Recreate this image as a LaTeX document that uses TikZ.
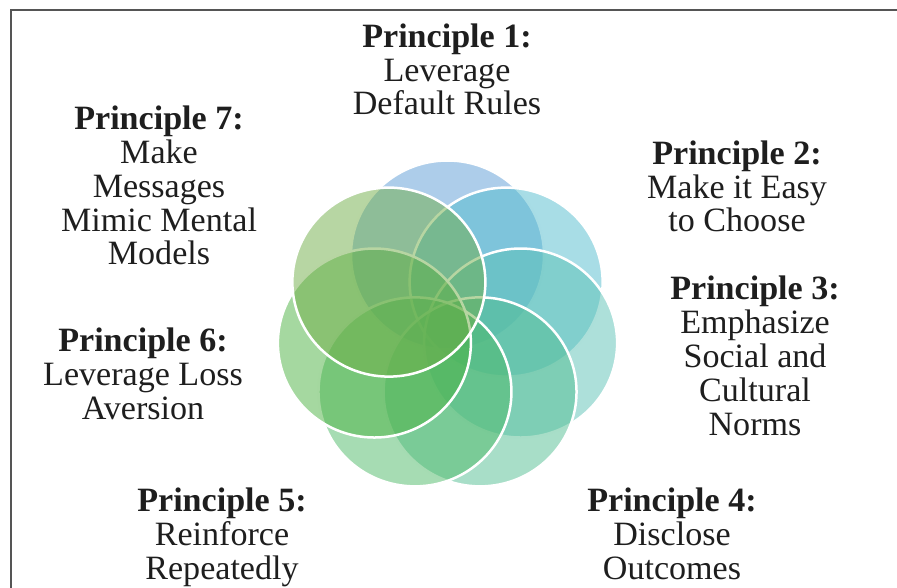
\documentclass[tikz,border=0pt]{standalone}
\usepackage{fontspec}
\setmainfont{Liberation Serif}
\definecolor{cA}{RGB}{91,155,213}
\definecolor{cB}{RGB}{81,187,205}
\definecolor{cC}{RGB}{91,193,181}
\definecolor{cD}{RGB}{81,189,145}
\definecolor{cE}{RGB}{77,185,103}
\definecolor{cF}{RGB}{75,177,65}
\definecolor{cG}{RGB}{112,173,71}
\definecolor{framegray}{RGB}{85,85,85}
\definecolor{ink}{RGB}{30,30,30}
\tikzset{
  principle/.style={font=\fontsize{34.2}{34.1}\selectfont, align=center, anchor=base, inner sep=0pt, text=ink},
  petal/.style={fill opacity=0.5, draw opacity=1, draw=white, line width=2.5bp},
}
\begin{document}
\begin{tikzpicture}[x=1bp,y=-1bp]
\useasboundingbox (0,0) rectangle (897,588);
\draw[framegray, line width=1.3bp] (11,590) -- (11,10) -- (899,10);
\foreach \a/\c in {90/cA, 38.571/cB, -12.857/cC, -64.286/cD, -115.714/cE, -167.143/cF, 141.429/cG}{
  \path[petal, fill=\c] ({447.5+75*cos(\a)},{327-72*sin(\a)}) ellipse[x radius=96.5, y radius=94.5];
}
% anchor=base is the baseline of the last line
\node[principle] (p1) at (447,115) {\textbf{Principle 1:}\\Leverage\\Default Rules};
\node[principle] (p2) at (737,232) {\textbf{Principle 2:}\\Make it Easy\\to Choose};
\node[principle] (p3) at (755,435) {\textbf{Principle 3:}\\Emphasize\\Social and\\Cultural\\Norms};
\node[principle] (p4) at (672,579) {\textbf{Principle 4:}\\Disclose\\Outcomes};
\node[principle] (p5) at (222,579) {\textbf{Principle 5:}\\Reinforce\\Repeatedly};
\node[principle] (p6) at (143,419) {\textbf{Principle 6:}\\Leverage Loss\\Aversion};
\node[principle] (p7) at (159,265) {\textbf{Principle 7:}\\Make\\Messages\\Mimic Mental\\Models};
\end{tikzpicture}
\end{document}
